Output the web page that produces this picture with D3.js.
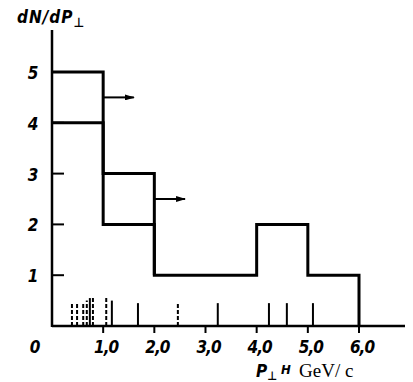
<html lang="en">
  <head>
    <meta charset="UTF-8" />
    <title>dN/dP spectrum</title>
    <script src="https://d3js.org/d3.v7.min.js"></script>
  </head>
  <style>
    body {
      margin: 0;
      background: #fff;
    }
    svg {
      display: block;
    }
    text.num {
      font-family: "DejaVu Sans Condensed", "DejaVu Sans", sans-serif;
      font-style: italic;
      font-weight: bold;
      font-size: 17px;
      fill: #000;
    }
    text.unit {
      font-family: "Liberation Serif", serif;
      font-size: 19px;
      fill: #000;
    }
  </style>
  <body>
    <div id="viz"></div>
    <script>
      // histogram bins (P_perp, GeV/c) and counts
      var binEdges = [0, 1, 2, 4, 5, 6];
      var lowerCounts = [4, 2, 1, 2, 1];
      var upperEdges = [0, 1, 2];
      var upperCounts = [5, 3];

      // arrows marking lower limits
      var arrowStart = [1, 2];
      var arrowEnd = [1.6, 2.6];
      var arrowLevel = [4.5, 2.5];

      // individual events along the axis
      var rugValues = [0.39, 0.49, 0.61, 0.68, 0.74, 0.8, 1.06, 1.17, 1.68, 2.46, 3.24, 4.24, 4.59, 5.1];
      var rugHeights = [0.45, 0.45, 0.45, 0.5, 0.55, 0.55, 0.55, 0.5, 0.45, 0.45, 0.45, 0.45, 0.45, 0.45];
      var rugDashed = [true, true, true, true, false, true, true, false, false, true, false, false, false, false];

      var xTicks = [1, 2, 3, 4, 5, 6];
      var yTicks = [1, 2, 3, 4, 5];

      var width = 413,
        height = 382;

      var svg = d3
        .select("#viz")
        .append("svg")
        .attr("width", width)
        .attr("height", height);

      var x = d3.scaleLinear().domain([0, 6]).range([52, 359]);
      var y = d3.scaleLinear().domain([0, 5]).range([326, 72]);

      function stepPoints(edges, counts, closeEnd) {
        var pts = [];
        counts.forEach(function (c, i) {
          pts.push([edges[i], c]);
          pts.push([edges[i + 1], c]);
        });
        if (closeEnd) pts.push([edges[edges.length - 1], 0]);
        return pts;
      }

      var line = d3
        .line()
        .x(function (d) {
          return x(d[0]);
        })
        .y(function (d) {
          return y(d[1]);
        });

      // axes
      svg
        .append("line")
        .attr("x1", x(0))
        .attr("x2", x(0))
        .attr("y1", 30)
        .attr("y2", y(0) + 1)
        .attr("stroke", "#000")
        .attr("stroke-width", 2.5);

      svg
        .append("line")
        .attr("x1", x(0))
        .attr("x2", 405)
        .attr("y1", y(0))
        .attr("y2", y(0))
        .attr("stroke", "#000")
        .attr("stroke-width", 2.5);

      svg
        .selectAll("line.xtick")
        .data(xTicks)
        .enter()
        .append("line")
        .attr("class", "xtick")
        .attr("x1", function (d) {
          return x(d);
        })
        .attr("x2", function (d) {
          return x(d);
        })
        .attr("y1", y(0))
        .attr("y2", y(0) + 7)
        .attr("stroke", "#000")
        .attr("stroke-width", 2);

      svg
        .selectAll("line.ytick")
        .data(yTicks)
        .enter()
        .append("line")
        .attr("class", "ytick")
        .attr("x1", x(0))
        .attr("x2", x(0) + 12)
        .attr("y1", function (d) {
          return y(d);
        })
        .attr("y2", function (d) {
          return y(d);
        })
        .attr("stroke", "#000")
        .attr("stroke-width", 2);

      // labels
      svg
        .selectAll("text.xlab")
        .data(xTicks)
        .enter()
        .append("text")
        .attr("class", "num")
        .attr("x", function (d) {
          return x(d) + 3;
        })
        .attr("y", 353)
        .attr("text-anchor", "middle")
        .style("letter-spacing", "-1px")
        .text(function (d) {
          return d.toFixed(1).replace(".", ",");
        });

      svg
        .append("text")
        .attr("class", "num")
        .attr("x", 35)
        .attr("y", 353)
        .attr("text-anchor", "middle")
        .text("0");

      svg
        .selectAll("text.ylab")
        .data(yTicks)
        .enter()
        .append("text")
        .attr("class", "num")
        .attr("x", 33)
        .attr("y", function (d) {
          return y(d) + 7;
        })
        .attr("text-anchor", "middle")
        .text(function (d) {
          return d;
        });

      svg
        .append("text")
        .attr("class", "num")
        .attr("x", 17)
        .attr("y", 23)
        .style("letter-spacing", "1px")
        .text("dN/dP")
        .append("tspan")
        .attr("dy", 4)
        .style("font-size", "13px")
        .text("⊥");

      var xt = svg.append("g").attr("transform", "translate(256,377)");
      xt.append("text")
        .attr("class", "num")
        .attr("x", 0)
        .attr("y", 0)
        .text("P")
        .append("tspan")
        .attr("dy", 3)
        .style("font-size", "12px")
        .text("⊥");
      xt.append("text")
        .attr("class", "num")
        .attr("x", 25)
        .attr("y", -3)
        .style("font-size", "13px")
        .text("H");
      xt.append("text")
        .attr("class", "unit")
        .attr("x", 43)
        .attr("y", 0)
        .text("GeV/ c");

      // rug of single events
      svg
        .selectAll("line.rug")
        .data(rugValues)
        .enter()
        .append("line")
        .attr("class", "rug")
        .attr("x1", function (d) {
          return x(d);
        })
        .attr("x2", function (d) {
          return x(d);
        })
        .attr("y1", y(0))
        .attr("y2", function (d, i) {
          return y(rugHeights[i]);
        })
        .attr("stroke", "#000")
        .attr("stroke-width", 2)
        .attr("stroke-dasharray", function (d, i) {
          return rugDashed[i] ? "4,2" : null;
        });

      // histograms
      svg
        .append("path")
        .attr("d", line(stepPoints(binEdges, lowerCounts, true)))
        .attr("fill", "none")
        .attr("stroke", "#000")
        .attr("stroke-width", 3)
        .attr("stroke-linejoin", "miter");

      svg
        .append("path")
        .attr("d", line(stepPoints(upperEdges, upperCounts, false).concat([[2, 1]])))
        .attr("fill", "none")
        .attr("stroke", "#000")
        .attr("stroke-width", 3);

      // arrows
      svg
        .append("defs")
        .append("marker")
        .attr("id", "head")
        .attr("viewBox", "0 0 10 6")
        .attr("refX", 9)
        .attr("refY", 3)
        .attr("markerWidth", 10)
        .attr("markerHeight", 6)
        .attr("markerUnits", "userSpaceOnUse")
        .attr("orient", "auto")
        .append("path")
        .attr("d", "M0,0 L10,3 L0,6 Z")
        .attr("fill", "#000");

      svg
        .selectAll("line.arrow")
        .data(arrowStart)
        .enter()
        .append("line")
        .attr("class", "arrow")
        .attr("x1", function (d) {
          return x(d);
        })
        .attr("x2", function (d, i) {
          return x(arrowEnd[i]);
        })
        .attr("y1", function (d, i) {
          return y(arrowLevel[i]);
        })
        .attr("y2", function (d, i) {
          return y(arrowLevel[i]);
        })
        .attr("stroke", "#000")
        .attr("stroke-width", 2)
        .attr("marker-end", "url(#head)");
    </script>
  </body>
</html>
